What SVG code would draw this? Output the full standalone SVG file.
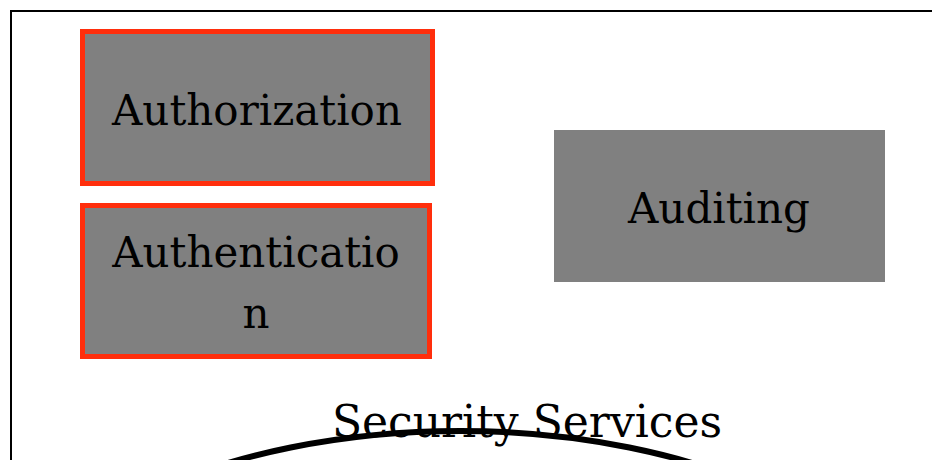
<svg xmlns="http://www.w3.org/2000/svg" width="932" height="460" viewBox="0 0 932 460">
  <style>
    .frame { fill: #ffffff; stroke: #000000; stroke-width: 2; }
    .box { fill: #808080; }
    .box.hl { stroke: #ff2e0c; stroke-width: 5; }
    .lbl { font-family: "DejaVu Serif", "Liberation Serif", serif; font-size: 42px; fill: #000000; text-anchor: middle; }
    .lbl.big { font-size: 44px; }
    .ring { fill: none; stroke: #000000; stroke-width: 6; }
  </style>
  <rect width="932" height="460" fill="#ffffff"/>

  <!-- cluster frame -->
  <g id="cluster-security-services">
    <rect class="frame" x="11" y="11" width="960" height="500"/>
  </g>

  <g id="node-authorization">
    <rect class="box hl" x="82.5" y="31.5" width="350" height="152"/>
    <text class="lbl" x="257" y="125">Authorization</text>
  </g>

  <g id="node-authentication">
    <rect class="box hl" x="82.5" y="205.5" width="347" height="151"/>
    <text class="lbl" x="256" y="267">Authenticatio</text>
    <text class="lbl" x="256" y="328">n</text>
  </g>

  <g id="node-auditing">
    <rect class="box" x="554" y="130" width="331" height="152"/>
    <text class="lbl" x="719" y="223">Auditing</text>
  </g>

  <g id="node-security-services">
    <ellipse class="ring" cx="460" cy="666" rx="460" ry="235"/>
    <text class="lbl big" x="527" y="437">Security Services</text>
  </g>

  <g id="connectors"></g>
</svg>
